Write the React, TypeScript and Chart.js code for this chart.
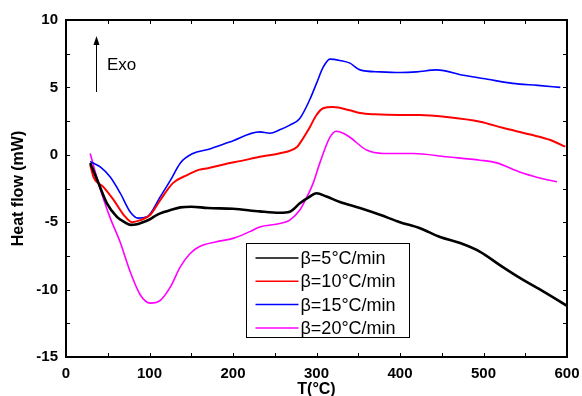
import { useEffect, useRef } from "react";
import { Chart, registerables } from "chart.js";

Chart.register(...registerables);

// β = 5 °C/min
const temp5 = [29, 37, 49, 61, 70, 77, 85, 92, 100, 109, 117, 125, 137, 150, 170, 200, 232, 256, 268, 280, 292, 300, 312, 328, 352, 376, 400, 424, 448, 472, 496, 520, 544, 568, 600];
const heat5 = [-0.6, -1.8, -3.6, -4.6, -5.0, -5.2, -5.15, -5.0, -4.8, -4.45, -4.25, -4.1, -3.9, -3.85, -3.95, -4.0, -4.2, -4.3, -4.22, -3.6, -3.1, -2.85, -3.1, -3.5, -3.95, -4.45, -5.0, -5.45, -6.1, -6.55, -7.2, -8.2, -9.15, -10.0, -11.2];

// β = 10 °C/min
const temp10 = [29, 33, 45, 57, 69, 79, 89, 101, 113, 128, 145, 160, 170, 190, 210, 232, 255, 277, 280, 292, 300, 308, 320, 340, 352, 370, 400, 424, 456, 496, 523, 556, 580, 598];
const heat10 = [-0.75, -1.65, -2.4, -3.35, -4.45, -5.0, -4.85, -4.45, -3.35, -2.1, -1.5, -1.1, -1.0, -0.7, -0.45, -0.15, 0.1, 0.6, 0.85, 2.05, 2.95, 3.45, 3.55, 3.3, 3.1, 3.0, 2.95, 2.95, 2.8, 2.45, 2.0, 1.5, 1.1, 0.6];

// β = 15 °C/min
const temp15 = [29, 41, 53, 65, 77, 86, 97, 113, 125, 137, 152, 170, 196, 232, 244, 256, 268, 280, 292, 300, 308, 316, 328, 340, 352, 376, 400, 420, 444, 476, 505, 535, 565, 592];
const heat15 = [-0.5, -0.9, -1.65, -2.85, -4.25, -4.7, -4.6, -3.1, -1.9, -0.6, 0.1, 0.4, 0.95, 1.7, 1.6, 1.85, 2.2, 2.7, 4.1, 5.3, 6.5, 7.1, 7.0, 6.8, 6.3, 6.15, 6.1, 6.15, 6.3, 5.9, 5.6, 5.3, 5.15, 5.0];

// β = 20 °C/min
const temp20 = [29, 37, 45, 53, 65, 77, 89, 101, 113, 125, 137, 149, 160, 180, 200, 220, 232, 256, 268, 280, 288, 296, 304, 316, 324, 332, 340, 360, 380, 400, 416, 456, 496, 516, 544, 566, 588];
const heat20 = [0.1, -1.7, -3.3, -4.7, -6.5, -8.7, -10.4, -11.0, -10.8, -9.8, -8.3, -7.3, -6.8, -6.45, -6.2, -5.7, -5.35, -5.1, -4.85, -4.1, -3.2, -2.1, -0.6, 1.3, 1.75, 1.6, 1.3, 0.35, 0.1, 0.1, 0.1, -0.15, -0.4, -0.6, -1.3, -1.7, -2.0];

const seriesLabels = ["β=5°C/min", "β=10°C/min", "β=15°C/min", "β=20°C/min"];
const seriesColors = ["#000000", "#ff0000", "#0000ff", "#ff00ff"];
const seriesWidths = [2.6, 2, 1.6, 1.6];
const seriesTemps = [temp5, temp10, temp15, temp20];
const seriesHeats = [heat5, heat10, heat15, heat20];

const FONT = "'Liberation Sans', Arial, sans-serif";

const framePlugin = {
  id: "frame",
  afterDatasetsDraw(chart: any) {
    const { ctx, chartArea: a, scales } = chart;
    ctx.save();
    ctx.strokeStyle = "#000";
    ctx.lineWidth = 1;
    for (let v = 0; v <= 600; v += 50) {
      const px = Math.round(scales.x.getPixelForValue(v)) + 0.5;
      ctx.beginPath();
      ctx.moveTo(px, a.bottom);
      ctx.lineTo(px, a.bottom - 4);
      ctx.moveTo(px, a.top);
      ctx.lineTo(px, a.top + 4);
      ctx.stroke();
    }
    for (let v = -15; v <= 10; v += 2.5) {
      const py = Math.round(scales.y.getPixelForValue(v)) + 0.5;
      ctx.beginPath();
      ctx.moveTo(a.left, py);
      ctx.lineTo(a.left + 4, py);
      ctx.moveTo(a.right, py);
      ctx.lineTo(a.right - 4, py);
      ctx.stroke();
    }
    ctx.lineWidth = 2;
    ctx.strokeRect(a.left, a.top, a.right - a.left, a.bottom - a.top);

    // Exo arrow
    const ax = a.left + 30.5;
    ctx.lineWidth = 1;
    ctx.beginPath();
    ctx.moveTo(ax, a.top + 72);
    ctx.lineTo(ax, a.top + 22);
    ctx.stroke();
    ctx.fillStyle = "#000";
    ctx.beginPath();
    ctx.moveTo(ax, a.top + 16);
    ctx.lineTo(ax - 3, a.top + 25);
    ctx.lineTo(ax + 3, a.top + 25);
    ctx.closePath();
    ctx.fill();
    ctx.font = `17px ${FONT}`;
    ctx.textBaseline = "alphabetic";
    ctx.textAlign = "left";
    ctx.fillText("Exo", a.left + 41, a.top + 50);

    // legend
    const lx = a.left + 180.5;
    const ly = a.top + 223.5;
    const lw = 163;
    const lh = 94;
    ctx.fillStyle = "#fff";
    ctx.fillRect(lx, ly, lw, lh);
    ctx.strokeStyle = "#000";
    ctx.lineWidth = 1;
    ctx.strokeRect(lx, ly, lw, lh);
    ctx.font = `18px ${FONT}`;
    ctx.textBaseline = "middle";
    seriesLabels.forEach((label, i) => {
      const y = ly + 14.5 + i * 23.3;
      ctx.strokeStyle = seriesColors[i];
      ctx.lineWidth = 1.5;
      ctx.beginPath();
      ctx.moveTo(lx + 9, y);
      ctx.lineTo(lx + 52, y);
      ctx.stroke();
      ctx.fillStyle = "#000";
      ctx.fillText(label, lx + 54, y + 1);
    });
    ctx.restore();
  },
};

export default function App() {
  const ref = useRef<HTMLCanvasElement | null>(null);
  useEffect(() => {
    if (!ref.current) return;
    const chart = new Chart(ref.current, {
      type: "line",
      data: {
        datasets: seriesLabels.map((label, i) => ({
          label,
          data: seriesTemps[i].map((t, k) => ({ x: t, y: seriesHeats[i][k] })),
          borderColor: seriesColors[i],
          backgroundColor: seriesColors[i],
          borderWidth: seriesWidths[i],
          pointRadius: 0,
          cubicInterpolationMode: "monotone",
          fill: false,
        })),
      },
      options: {
        animation: false,
        responsive: true,
        maintainAspectRatio: false,
        layout: { padding: { left: 0, right: 15, top: 20, bottom: 0 } },
        plugins: { legend: { display: false }, tooltip: { enabled: false } },
        scales: {
          x: {
            type: "linear",
            min: 0,
            max: 600,
            afterFit: (s: any) => {
              s.height = 39;
              s.paddingLeft = 0;
              s.paddingRight = 0;
            },
            grid: { display: false, drawTicks: false },
            border: { display: false },
            ticks: {
              stepSize: 100,
              padding: 8,
              color: "#000",
              font: { family: FONT, size: 15, weight: "bold" },
              maxRotation: 0,
            },
            title: {
              display: true,
              text: "T(°C)",
              color: "#000",
              font: { family: FONT, size: 16, weight: "bold" },
              padding: { top: 0, bottom: -3 },
            },
          },
          y: {
            type: "linear",
            min: -15,
            max: 10,
            afterFit: (s: any) => {
              s.width = 66;
              s.paddingTop = 0;
              s.paddingBottom = 0;
            },
            grid: { display: false, drawTicks: false },
            border: { display: false },
            ticks: {
              stepSize: 5,
              padding: 8,
              color: "#000",
              font: { family: FONT, size: 15, weight: "bold" },
            },
            title: {
              display: true,
              text: "Heat flow (mW)",
              color: "#000",
              font: { family: FONT, size: 16, weight: "bold" },
              padding: { top: 9, bottom: 0 },
            },
          },
        },
      },
      plugins: [framePlugin],
    });
    return () => chart.destroy();
  }, []);
  return (
    <div style={{ position: "absolute", left: 0, top: 0, width: 582, height: 396 }}>
      <canvas ref={ref} />
    </div>
  );
}
